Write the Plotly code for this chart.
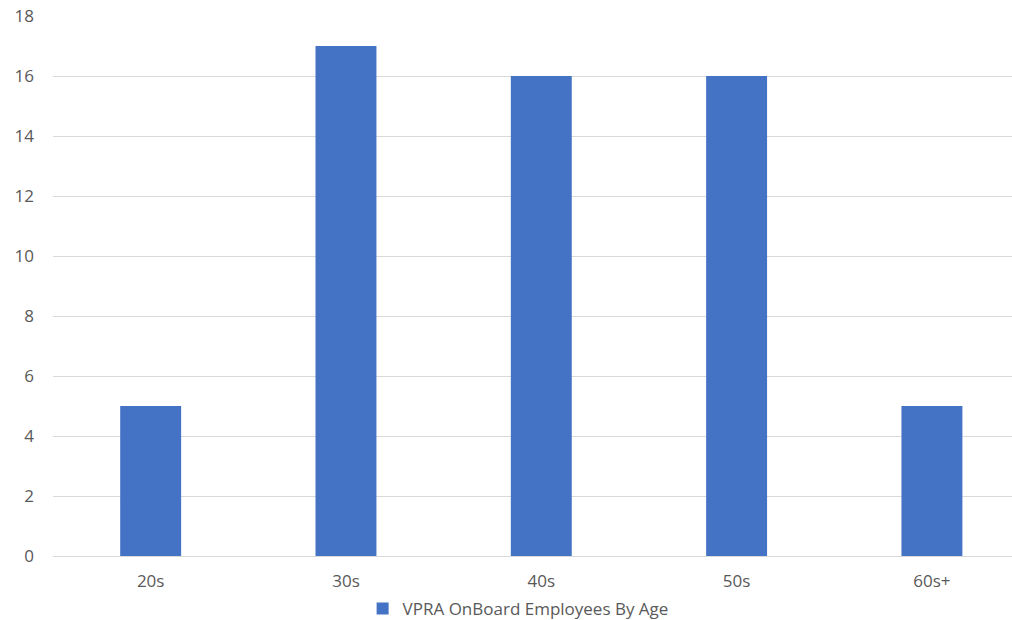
import plotly.graph_objects as go

categories = ["20s", "30s", "40s", "50s", "60s+"]
values = [5, 17, 16, 16, 5]
series_name = "VPRA OnBoard Employees By Age"
y_ticks = [0, 2, 4, 6, 8, 10, 12, 14, 16, 18]

FONT = "Open Sans"
GRAY = "#595959"
FS = 17

fig = go.Figure()
fig.add_trace(go.Bar(
    x=categories, y=values, name=series_name,
    marker=dict(color="#4472C4", line=dict(width=0)),
    showlegend=True,
))

fig.update_layout(
    width=1012, height=620,
    margin=dict(l=53, r=0, t=16, b=64, pad=0, autoexpand=False),
    paper_bgcolor="white", plot_bgcolor="white",
    bargap=0.688,
    font=dict(family=FONT, size=FS, color=GRAY),
    showlegend=True,
    legend=dict(
        orientation="h", x=0.485, xanchor="center",
        y=-0.098, yanchor="middle",
        font=dict(family=FONT, size=FS, color=GRAY),
        bgcolor="rgba(0,0,0,0)",
    ),
    xaxis=dict(
        range=[-0.5, 4.41], showgrid=False, showline=False, zeroline=False,
        ticks="", ticklabelstandoff=13,
        tickfont=dict(family=FONT, size=FS, color=GRAY),
    ),
    yaxis=dict(
        range=[0, 18], tickvals=y_ticks, showgrid=True,
        gridcolor="#d9d9d9", gridwidth=1.3,
        zeroline=True, zerolinecolor="#d9d9d9", zerolinewidth=1.3,
        showline=False, ticks="", ticklabelstandoff=18,
        tickfont=dict(family=FONT, size=FS, color=GRAY),
    ),
)

fig.write_html("out.html")
